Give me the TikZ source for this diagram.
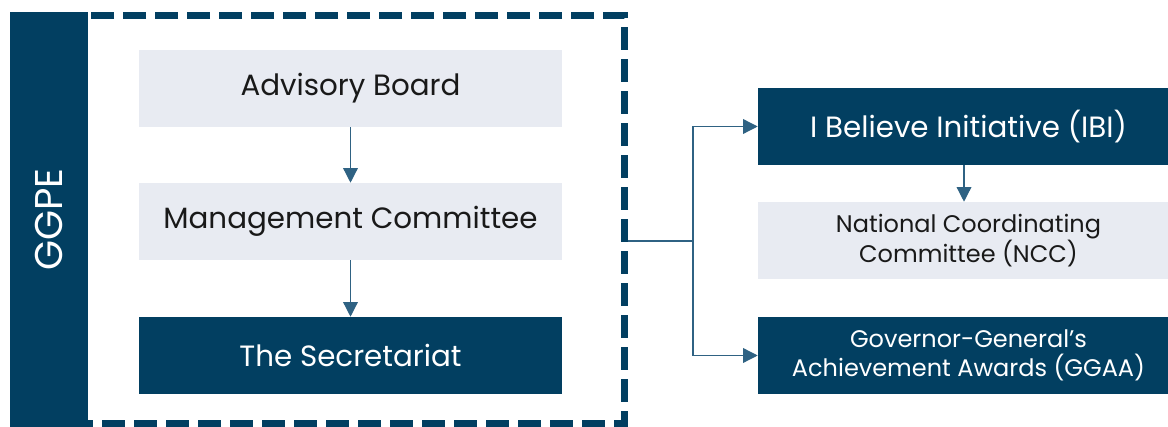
\documentclass[tikz,border=0pt]{standalone}
\usepackage{fontspec}
\setmainfont{Poppins}
\usetikzlibrary{arrows.meta}
\definecolor{navy}{HTML}{023F61}
\definecolor{pale}{HTML}{E8EBF2}
\definecolor{wire}{HTML}{2F6283}

\tikzset{
  lightbox/.style={fill=pale, text=black!90, inner sep=0pt, align=center},
  darkbox/.style={fill=navy, text=white, inner sep=0pt, align=center},
  leftcol/.style={minimum width=317.25pt, minimum height=57.75pt},
  rightcol/.style={minimum width=315.75pt, minimum height=57.75pt},
  link/.style={draw=wire, line width=1pt, -{Triangle[length=11pt,width=11pt]}}
}

\begin{document}
\begin{tikzpicture}[x=0.75pt, y=-0.75pt]
  \useasboundingbox (0,0) rectangle (1168,427);

  % 虚线外框
  \node[draw=navy, line width=5.25pt, dash pattern=on 17.25pt off 6.75pt,
        minimum width=415.5pt, minimum height=306pt, inner sep=0pt] (frame) at (347,220) {};

  % 左侧深色竖条
  \node[fill=navy, minimum width=58.5pt, minimum height=311.25pt, inner sep=0pt] (bar) at (49,219.5) {};
  \node[rotate=90, text=white, font=\fontsize{29}{34}\selectfont] (ggpe) at (bar) {GGPE};

  % 左列三个方框
  \node[lightbox, leftcol, font=\fontsize{22}{26}\selectfont] (board) at (350.5,88.5) {Advisory Board};
  \node[lightbox, leftcol, font=\fontsize{22}{26}\selectfont] (mgmt) at (350.5,221.5) {Management Committee};
  \node[darkbox, leftcol, font=\fontsize{22}{26}\selectfont] (sec) at (350.5,355.5) {The Secretariat};

  % 右列三个方框 (右边超出画面)
  \node[darkbox, rightcol, font=\fontsize{22}{26}\selectfont] (ibi) at (968.5,126.5) {I Believe Initiative (IBI)};
  \node[lightbox, rightcol, font=\fontsize{18}{22}\selectfont] (ncc) at (968.5,240.5) {National Coordinating\\Committee (NCC)};
  \node[darkbox, rightcol, font=\fontsize{18}{22}\selectfont] (ggaa) at (968.5,355.5) {Governor-General’s\\Achievement Awards (GGAA)};

  % 箭头
  \draw[link] (board) -- (mgmt);
  \draw[link] (mgmt) -- (sec);
  \coordinate (drop) at (964,0);
  \draw[link] (ibi.south -| drop) -- (ncc.north -| drop);

  % 分叉连线
  \coordinate (split) at (693,241);
  \draw[draw=wire, line width=1pt] (frame.east |- split) -- (split);
  \draw[link] (split) |- (ibi.west);
  \draw[link] (split) |- (ggaa.west);
\end{tikzpicture}
\end{document}
